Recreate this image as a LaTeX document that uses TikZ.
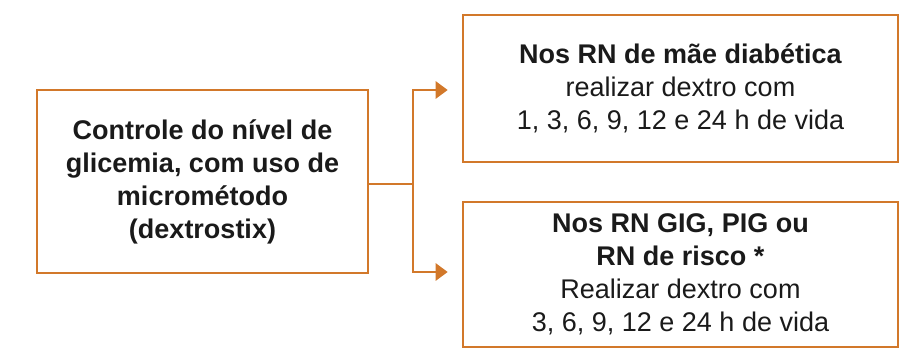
\documentclass[tikz,border=0pt]{standalone}
\usepackage{fontspec}
\setmainfont{Liberation Sans}
\usetikzlibrary{arrows.meta}
\definecolor{boxor}{HTML}{D2782A}
\definecolor{txt}{HTML}{1A1A1A}
\tikzset{
  box/.style={draw=boxor, line width=2.6pt, align=center, text=txt, inner sep=0pt,
    font=\fontsize{27}{33}\selectfont},
  conn/.style={draw=boxor, line width=2.6pt},
  arr/.style={conn, -{Triangle[length=12pt,width=17pt]}}
}
\begin{document}
\begin{tikzpicture}[x=1pt,y=-1pt]
\useasboundingbox (0,0) rectangle (908,359);
\node[box, minimum width=331pt, minimum height=183pt] (src) at (202.5,181.5)
  {\textbf{Controle do nível de}\\\textbf{glicemia, com uso de}\\\textbf{micrométodo}\\\textbf{(dextrostix)}};
\node[box, minimum width=435pt, minimum height=147pt] (top) at (680.5,88.5)
  {\textbf{Nos RN de mãe diabética}\\realizar dextro com\\1, 3, 6, 9, 12 e 24 h de vida};
\node[box, minimum width=435pt, minimum height=145pt] (bot) at (680.5,274.5)
  {\textbf{Nos RN GIG, PIG ou}\\\textbf{RN de risco *}\\Realizar dextro com\\3, 6, 9, 12 e 24 h de vida};
\coordinate (j) at (413,184);
\draw[conn] (src.east |- j) -- (j);
\draw[arr] (j) |- ([xshift=-14pt]top.west |- 0,90);
\draw[arr] (j) |- ([xshift=-14pt]bot.west |- 0,272);
\end{tikzpicture}
\end{document}
